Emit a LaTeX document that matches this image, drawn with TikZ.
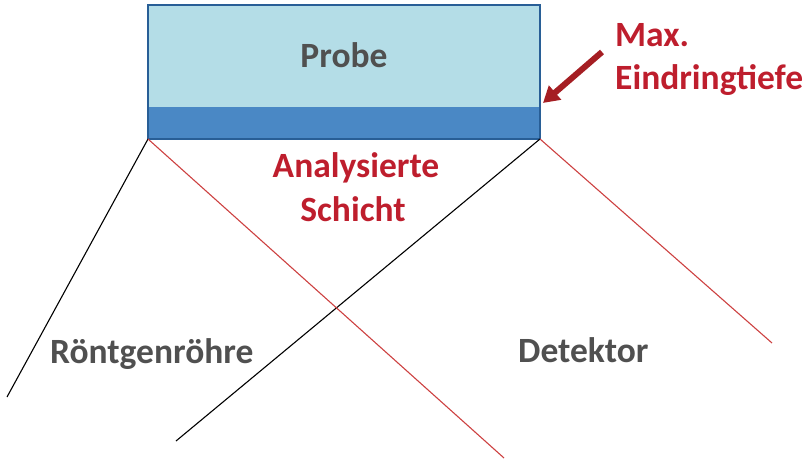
\documentclass[tikz,border=0pt]{standalone}
\usepackage{fontspec}
\setmainfont{Carlito}
\usetikzlibrary{arrows.meta}
\definecolor{sampleFill}{RGB}{180,221,231}
\definecolor{layerFill}{RGB}{74,136,197}
\definecolor{boxEdge}{RGB}{40,94,150}
\definecolor{labelGrey}{RGB}{80,80,80}
\definecolor{labelRed}{RGB}{190,30,45}
\definecolor{arrowRed}{RGB}{165,30,35}
\definecolor{beamRed}{RGB}{205,65,65}
\tikzset{
  greylabel/.style={font=\fontsize{35.5}{40}\selectfont\bfseries, text=labelGrey, inner sep=0pt},
  redlabel/.style={font=\fontsize{35.5}{43}\selectfont\bfseries, text=labelRed, inner sep=0pt},
  incoming/.style={draw=black, line width=1.1pt},
  outgoing/.style={draw=beamRed, line width=1.1pt},
}
\begin{document}
\begin{tikzpicture}[x=1pt,y=-1pt]
  \useasboundingbox (0,0) rectangle (807,460);
  % sample body and analysed layer
  \fill[sampleFill] (148,5) rectangle (540,107);
  \fill[layerFill] (148,107) rectangle (540,139);
  \draw[boxEdge, line width=2.2pt] (148,5) rectangle (540,139);
  \coordinate (bl) at (148,139);
  \coordinate (br) at (540,139);
  \node[greylabel] (probe) at (344,55) {Probe};

  % beam end points
  \coordinate (srcA) at (7,397);
  \coordinate (srcB) at (176,441);
  \coordinate (detA) at (504,458);
  \coordinate (detB) at (772,343);

  % X-ray beam and diffracted beam
  \draw[incoming] (bl) -- (srcA);
  \draw[incoming] (br) -- (srcB);
  \draw[outgoing] (bl) -- (detA);
  \draw[outgoing] (br) -- (detB);

  % labels
  \node[redlabel, anchor=base] (layerA) at (356,178) {Analysierte};
  \node[redlabel, anchor=base] (layerB) at (353,221) {Schicht};
  \node[greylabel, anchor=base west] (tube) at (50,363) {Röntgenröhre};
  \node[greylabel, anchor=base west] (det) at (518,362) {Detektor};
  \node[redlabel, anchor=base west] (maxA) at (615,47) {Max.};
  \node[redlabel, anchor=base west] (maxB) at (615,90) {Eindringtiefe};

  % penetration depth pointer
  \coordinate (arrTail) at (602,52);
  \coordinate (arrTip) at (543,103);
  \draw[arrowRed, line width=6pt, -{Triangle[length=16pt,width=18pt]}] (arrTail) -- (arrTip);
\end{tikzpicture}
\end{document}
